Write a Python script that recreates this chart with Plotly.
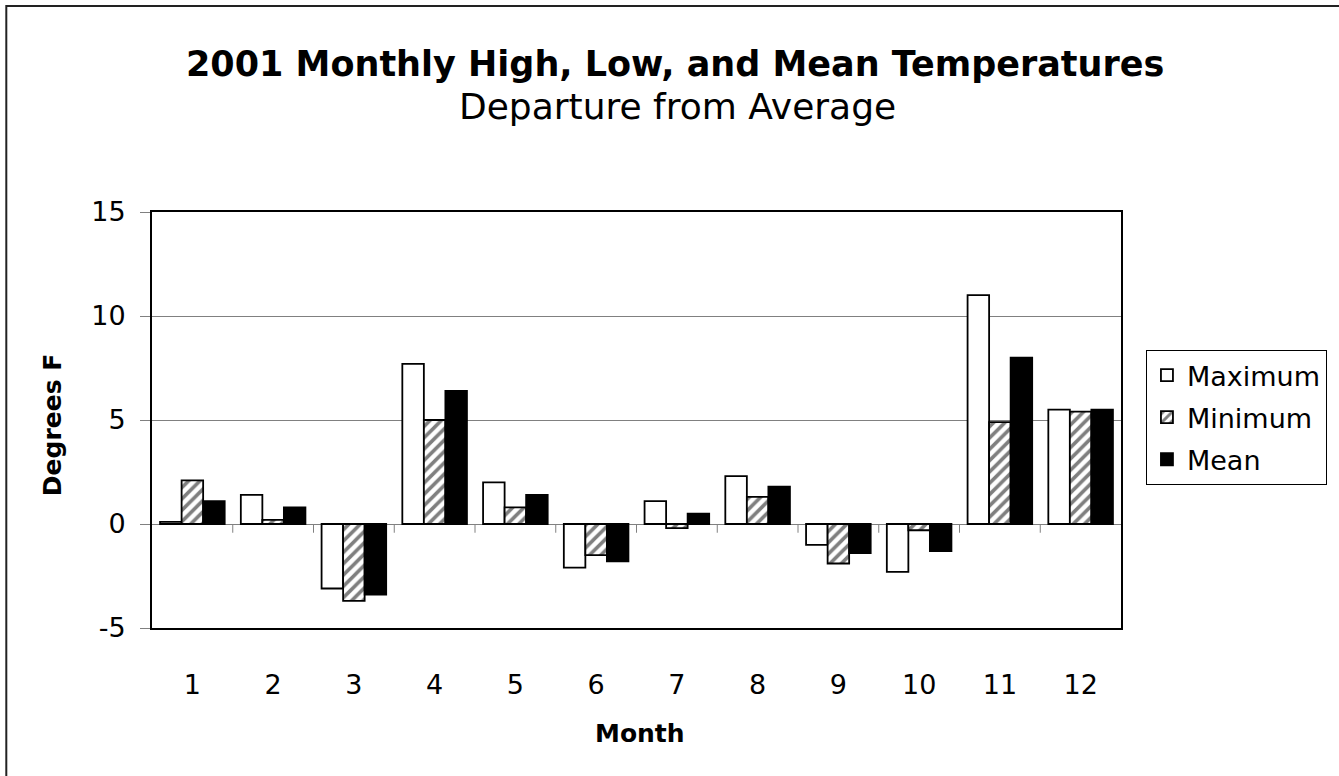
import plotly.graph_objects as go

months = [1, 2, 3, 4, 5, 6, 7, 8, 9, 10, 11, 12]
maximum = [0.1, 1.4, -3.1, 7.7, 2.0, -2.1, 1.1, 2.3, -1.0, -2.3, 11.0, 5.5]
minimum = [2.1, 0.2, -3.7, 5.0, 0.8, -1.5, -0.2, 1.3, -1.9, -0.3, 4.9, 5.4]
mean = [1.1, 0.8, -3.4, 6.4, 1.4, -1.8, 0.5, 1.8, -1.4, -1.3, 8.0, 5.5]
y_ticks = [-5, 0, 5, 10, 15]
y_tick_text = ["-5", "0", "5", "10", "15"]

FONT = "DejaVu Sans, Arial, sans-serif"
L, R, T, B = 152, 216, 212, 148
W, H = 1339, 776
PW, PH = W - L - R, H - T - B


def px_x(x):
    return (x - L) / PW


def px_y(y):
    return (H - B - y) / PH


fig = go.Figure()
line = dict(color="black", width=1.8)
fig.add_trace(go.Bar(x=months, y=maximum, name="Maximum", legendgroup="a",
                     marker=dict(color="white", line=line)))
fig.add_trace(go.Bar(x=months, y=minimum, name="Minimum", legendgroup="b",
                     marker=dict(color="white", line=line,
                                 pattern=dict(shape="/", fgcolor="black", bgcolor="white",
                                              size=8, solidity=0.45))))
fig.add_trace(go.Bar(x=months, y=mean, name="Mean", legendgroup="c",
                     marker=dict(color="black", line=line)))

shapes = []
# category boundary tick marks on the zero line
for m in months[:-1]:
    shapes.append(dict(type="line", xref="x", yref="y", x0=m + 0.5, x1=m + 0.5,
                       y0=0, y1=-0.42, line=dict(color="#808080", width=1)))
# outer chart border
shapes.append(dict(type="rect", xref="paper", yref="paper",
                   x0=px_x(6), x1=px_x(W + 20), y0=px_y(6), y1=px_y(H + 20),
                   line=dict(color="#222222", width=2), fillcolor="rgba(0,0,0,0)", layer="below"))

annotations = [
    dict(text="<b>2001 Monthly High, Low, and Mean Temperatures</b>", xref="paper", yref="paper",
         x=px_x(676), y=px_y(64), showarrow=False, xanchor="center", yanchor="middle",
         font=dict(family=FONT, size=35, color="black")),
    dict(text="Departure from Average", xref="paper", yref="paper",
         x=px_x(679), y=px_y(106), showarrow=False, xanchor="center", yanchor="middle",
         font=dict(family=FONT, size=36, color="black")),
    dict(text="<b>Degrees F</b>", xref="paper", yref="paper", textangle=-90,
         x=px_x(52), y=px_y(425), showarrow=False, xanchor="center", yanchor="middle",
         font=dict(family=FONT, size=25, color="black")),
    dict(text="<b>Month</b>", xref="paper", yref="paper",
         x=px_x(641), y=px_y(733), showarrow=False, xanchor="center", yanchor="middle",
         font=dict(family=FONT, size=25, color="black")),
]

fig.update_layout(
    width=W, height=H,
    margin=dict(l=L, r=R, t=T, b=B, pad=0),
    paper_bgcolor="white", plot_bgcolor="white",
    barmode="group", bargap=0.2, bargroupgap=0,
    font=dict(family=FONT, size=27, color="black"),
    showlegend=True,
    legend=dict(x=px_x(1148), y=px_y(350), xanchor="left", yanchor="top",
                bordercolor="black", borderwidth=1, bgcolor="white",
                font=dict(family=FONT, size=27, color="black"),
                traceorder="grouped", tracegroupgap=4, itemwidth=30),
    shapes=shapes,
    annotations=annotations,
    xaxis=dict(range=[0.5, 12.5], tickmode="array", tickvals=months,
               ticktext=[str(m) for m in months], showgrid=False, zeroline=False,
               showline=True, linecolor="black", linewidth=2, mirror=True,
               ticks="", ticklabelstandoff=32, tickfont=dict(size=27)),
    yaxis=dict(range=[-5, 15], tickmode="array", tickvals=y_ticks, ticktext=y_tick_text,
               showgrid=True, gridcolor="#808080", gridwidth=1,
               zeroline=True, zerolinecolor="#808080", zerolinewidth=1,
               showline=True, linecolor="black", linewidth=2, mirror=True,
               ticks="outside", ticklen=10, tickcolor="#808080", tickwidth=1,
               ticklabelstandoff=9, tickfont=dict(size=27)),
)

fig.write_html("out.html", config={"displayModeBar": False},
               post_script="document.body.style.margin='0';")
